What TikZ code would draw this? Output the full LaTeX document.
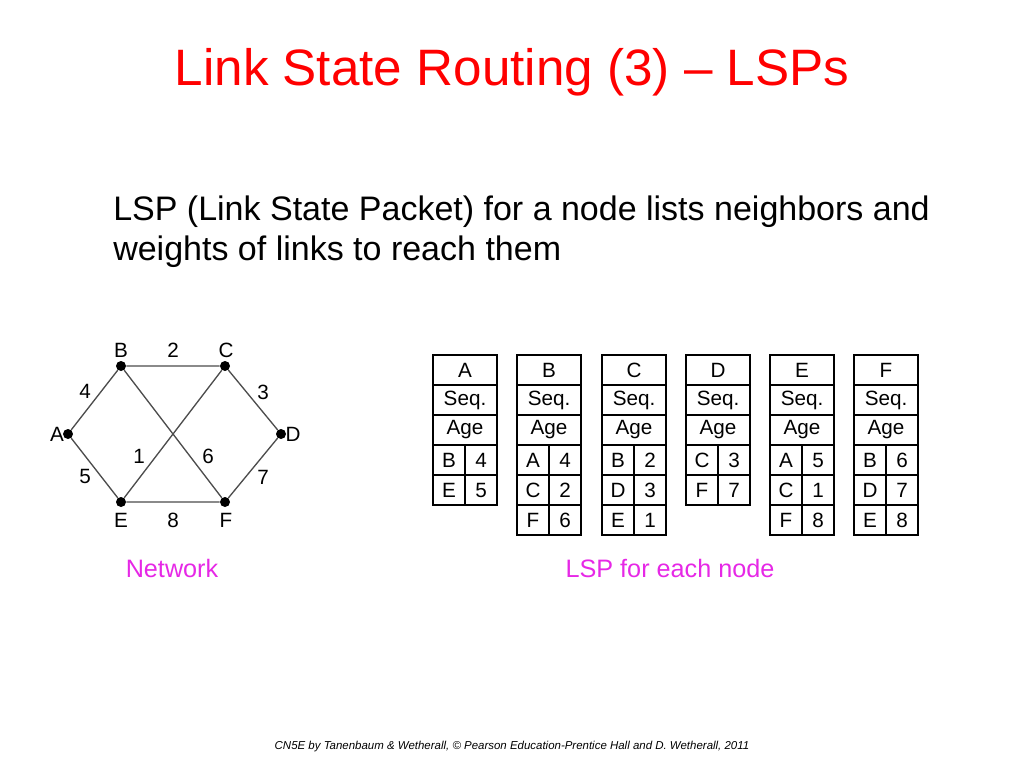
\documentclass[tikz,border=0pt]{standalone}
\usepackage{fontspec}
\setmainfont{Liberation Sans}
\begin{document}
\begin{tikzpicture}[x=0.75pt,y=-0.75pt,
  dot/.style={circle,fill=black,inner sep=0pt,minimum size=7.5pt},
  lbl/.style={font=\fontsize{15.5}{18}\selectfont,inner sep=0pt},
  edge/.style={draw=black!70,line width=1pt},
  cell/.style={draw=black,line width=0.8pt},
  ctext/.style={font=\fontsize{15.5}{18}\selectfont,inner sep=0pt}]
\useasboundingbox (0,0) rectangle (1024,768);
\node[text=red,font=\fontsize{38.4}{44}\selectfont] (title) at (512,72) {Link State Routing (3) – LSPs};
\node[anchor=west,align=left,font=\fontsize{25.5}{30}\selectfont,inner sep=0pt] (body) at (113,232) {LSP (Link State Packet) for a node lists neighbors and\\weights of links to reach them};
% network
\node[dot] (A) at (68,434) {};
\node[dot] (B) at (121,366) {};
\node[dot] (C) at (225,366) {};
\node[dot] (D) at (281,434) {};
\node[dot] (E) at (121,502) {};
\node[dot] (F) at (225,502) {};
\draw[edge] (A)--(B) (B)--(C) (C)--(D) (A)--(E) (E)--(F) (F)--(D) (B)--(F) (C)--(E);
\node[lbl] (lA) at (57,434) {A};
\node[lbl] (lB) at (121,350) {B};
\node[lbl] (lC) at (226,350) {C};
\node[lbl] (lD) at (293,434) {D};
\node[lbl] (lE) at (121,520) {E};
\node[lbl] (lF) at (226,520) {F};
\node[lbl] (w2) at (173,350) {2};
\node[lbl] (w4) at (85,391) {4};
\node[lbl] (w3) at (263,392) {3};
\node[lbl] (w1) at (139,456) {1};
\node[lbl] (w6) at (208,456) {6};
\node[lbl] (w5) at (85,476) {5};
\node[lbl] (w7) at (263,477) {7};
\node[lbl] (w8) at (173,520) {8};
% tables
\foreach \n/\x/\rows in {A/433/{B/4,E/5},B/517/{A/4,C/2,F/6},C/602/{B/2,D/3,E/1},D/686/{C/3,F/7},E/770/{A/5,C/1,F/8},F/854/{B/6,D/7,E/8}}{
  \draw[cell] (\x,355) rectangle ++(64,30);
  \node[ctext] (h\n) at (\x+32,370) {\n};
  \draw[cell] (\x,385) rectangle ++(64,30);
  \node[ctext] (s\n) at (\x+32,400) {Seq.};
  \draw[cell] (\x,415) rectangle ++(64,30);
  \node[ctext] (a\n) at (\x+32,430) {Age};
  \foreach \k/\v [count=\i] in \rows {
    \draw[cell] (\x,415+30*\i) rectangle ++(32,30);
    \draw[cell] (\x+32,415+30*\i) rectangle ++(32,30);
    \node[ctext] (k\n\i) at (\x+16,430+30*\i) {\k};
    \node[ctext] (v\n\i) at (\x+48,430+30*\i) {\v};
  }
}
\node[text={rgb,255:red,230;green,40;blue,230},font=\fontsize{18.9}{22}\selectfont] (net) at (172,568) {Network};
\node[text={rgb,255:red,230;green,40;blue,230},font=\fontsize{18.9}{22}\selectfont] (lsp) at (670,568) {LSP for each node};
\node[font=\fontsize{8.6}{10}\selectfont\itshape] (foot) at (512,747) {CN5E by Tanenbaum \& Wetherall, © Pearson Education-Prentice Hall and D. Wetherall, 2011};
\end{tikzpicture}
\end{document}
